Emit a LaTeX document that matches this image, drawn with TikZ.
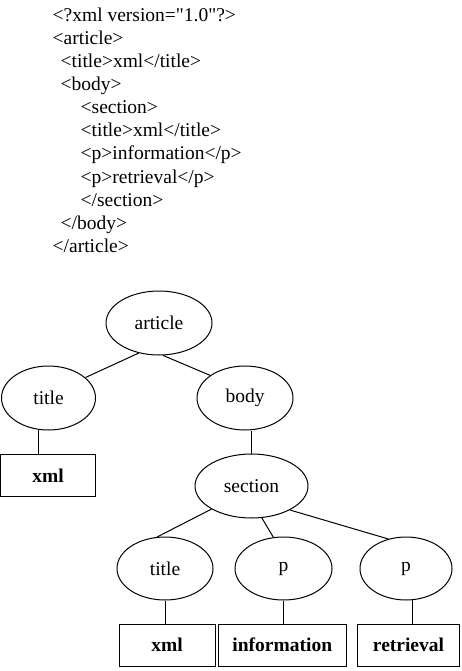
\documentclass[tikz,border=0pt]{standalone}
\usepackage{fontspec}
\setmainfont{Liberation Serif}[Ligatures=TeXOff]
\usetikzlibrary{shapes.geometric}
\begin{document}
\begin{tikzpicture}[x=1pt,y=-1pt,
  every node/.style={font=\fontsize{19.5}{23}\selectfont},
  codeline/.style={anchor=base west,inner sep=0pt},
  elem/.style={ellipse,draw,line width=1pt,inner sep=0pt,minimum height=64pt},
  leaf/.style={rectangle,draw,line width=1pt,inner sep=0pt,minimum height=42pt,font=\fontsize{19.5}{23}\selectfont\bfseries},
  edge/.style={line width=1pt}]
\useasboundingbox (0,0) rectangle (461,671);
% code listing
\node[codeline] (c1) at (52.5,21.3) {<?xml version="1.0"?>};
\node[codeline] (c2) at (52.5,44.4) {<article>};
\node[codeline] (c3) at (60.5,67.5) {<title>xml</title>};
\node[codeline] (c4) at (60.5,90.6) {<body>};
\node[codeline] (c5) at (80.5,113.7) {<section>};
\node[codeline] (c6) at (80.5,136.8) {<title>xml</title>};
\node[codeline] (c7) at (80.5,159.9) {<p>information</p>};
\node[codeline] (c8) at (80.5,183.0) {<p>retrieval</p>};
\node[codeline] (c9) at (80.5,206.1) {</section>};
\node[codeline] (c10) at (60.5,229.2) {</body>};
\node[codeline] (c11) at (52.5,252.3) {</article>};
% tree
\node[elem,minimum width=106pt] (article) at (159,323) {article};
\node[elem,minimum width=94pt] (title) at (48.5,398) {title};
\node[elem,minimum width=96pt] (body) at (245,398) {body};
\node[leaf,minimum width=95pt] (xmlA) at (48.2,475.5) {xml};
\node[elem,minimum width=113pt] (section) at (251.5,486) {section};
\node[elem,minimum width=96pt,minimum height=63pt] (title2) at (165,568.5) {title};
\node[elem,minimum width=97pt,minimum height=63pt] (p1) at (283.5,568.5) {p};
\node[elem,minimum width=92pt,minimum height=63pt] (p2) at (406,568.5) {p};
\node[leaf,minimum width=96pt] (xmlB) at (167,645) {xml};
\node[leaf,minimum width=128.5pt] (info) at (282.3,645) {information};
\node[leaf,minimum width=102pt] (retr) at (408.5,645) {retrieval};
% connectors
\draw[edge] (article.236) -- (title.29);
\draw[edge] (article.277) -- (body.147);
\draw[edge] (title.253) -- (title.253 |- xmlA.north);
\draw[edge] (section.north |- body.south) -- (section.north);
\draw[edge] (section.210) -- (title2.104);
\draw[edge] (section.288) -- (p1.108);
\draw[edge] (section.328) -- (p2.121);
\draw[edge] (title2.south) -- (title2.south |- xmlB.north);
\draw[edge] (p1.south) -- (p1.south |- info.north);
\draw[edge] (p2.282) -- (p2.282 |- retr.north);
\end{tikzpicture}
\end{document}
